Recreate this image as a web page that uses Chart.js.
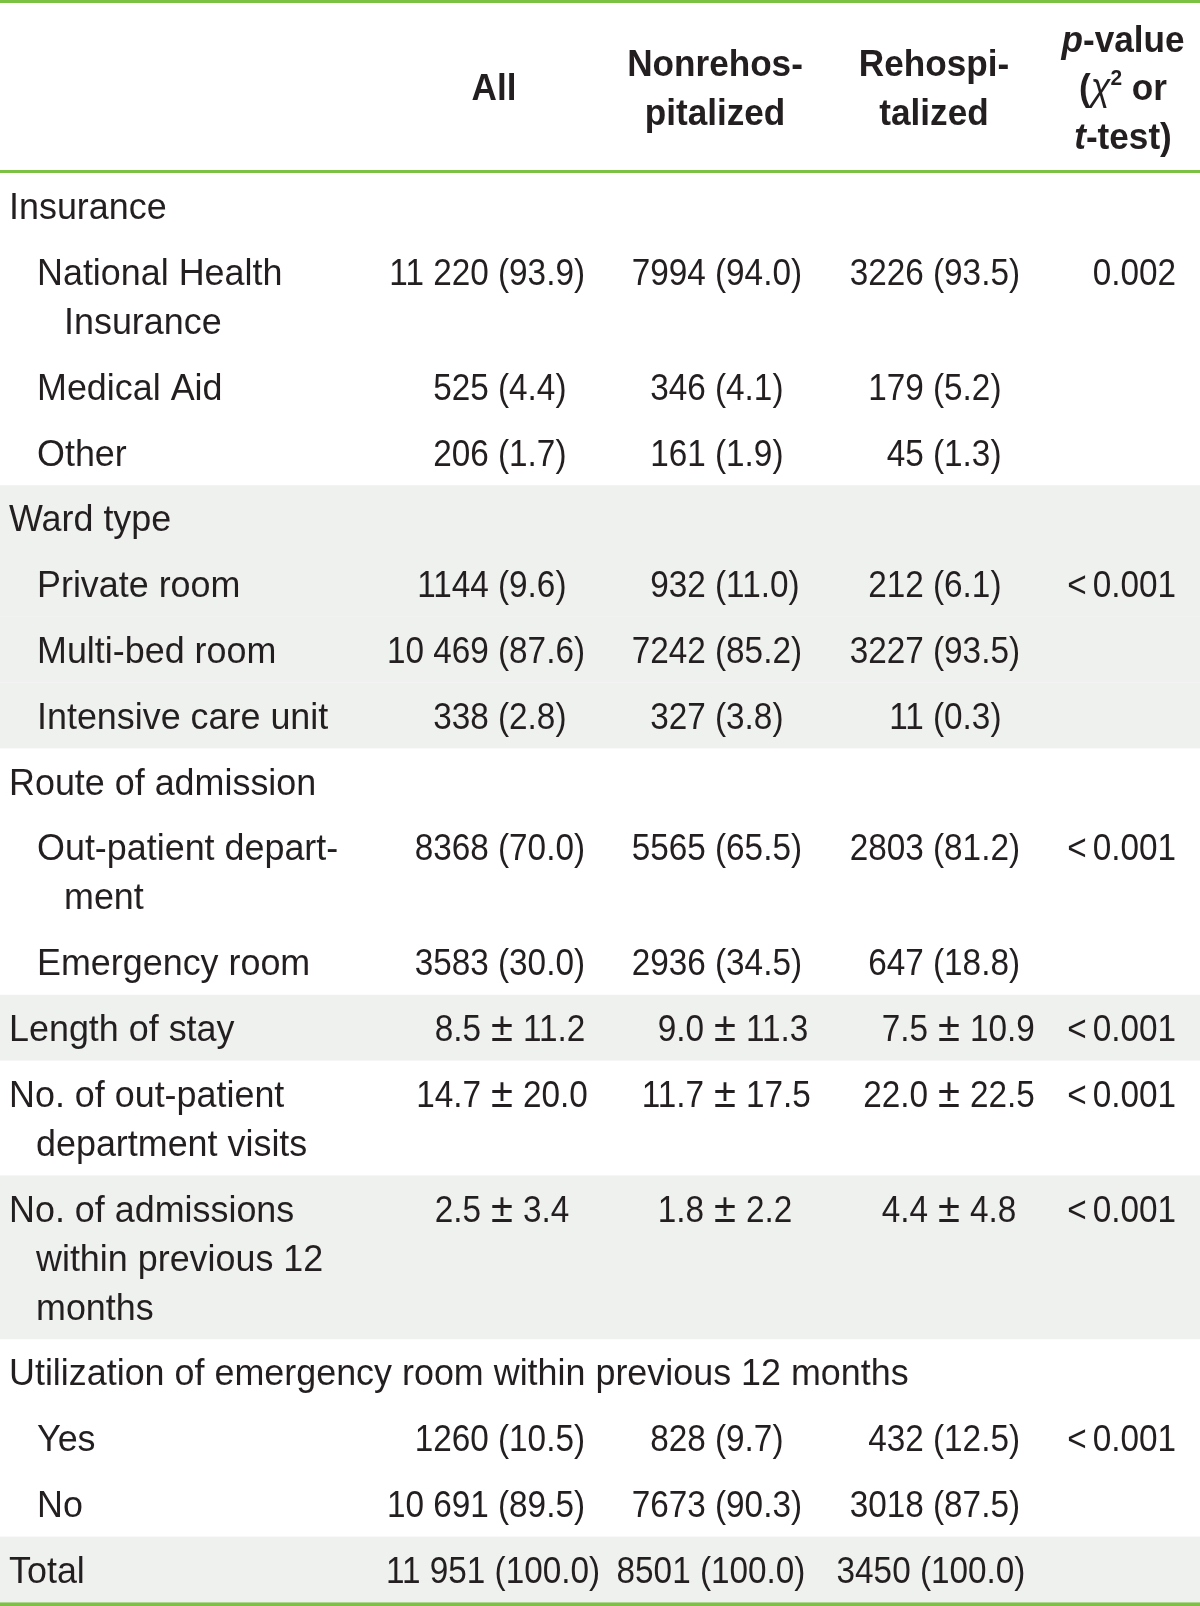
<!DOCTYPE html>
<html>
<head>
<meta charset="utf-8">
<title>Rehospitalization table</title>
<script src="https://cdn.jsdelivr.net/npm/chart.js@4.4.1/dist/chart.umd.min.js"></script>
<style>
  html, body { margin: 0; padding: 0; background: #fff; }
  #wrap { width: 1200px; height: 1606px; }
</style>
</head>
<body>
<div id="wrap"><canvas id="tableChart" width="1200" height="1606"></canvas></div>
<script>
// table content
const columnHeads = [['All'], ['Nonrehos-', 'pitalized'], ['Rehospi-', 'talized'], ['p-value', '(χ2 or', 't-test)']];

const rowLabels = [
    ['Insurance'],
    ['National Health', 'Insurance'],
    ['Medical Aid'],
    ['Other'],
    ['Ward type'],
    ['Private room'],
    ['Multi-bed room'],
    ['Intensive care unit'],
    ['Route of admission'],
    ['Out-patient depart-', 'ment'],
    ['Emergency room'],
    ['Length of stay'],
    ['No. of out-patient', 'department visits'],
    ['No. of admissions', 'within previous 12', 'months'],
    ['Utilization of emergency room within previous 12 months'],
    ['Yes'],
    ['No'],
    ['Total']
];
const rowLevel = [0, 1, 1, 1, 0, 1, 1, 1, 0, 1, 1, 0, 0, 0, 0, 1, 1, 0];
const rowShaded = [0, 0, 0, 0, 1, 1, 1, 1, 0, 0, 0, 1, 0, 1, 0, 0, 0, 1];

const allValues = ['', '11 220 (93.9)', '525 (4.4)', '206 (1.7)', '', '1144 (9.6)', '10 469 (87.6)', '338 (2.8)',
    '', '8368 (70.0)', '3583 (30.0)', '8.5±11.2', '14.7±20.0', '2.5±3.4', '', '1260 (10.5)', '10 691 (89.5)', '11 951 (100.0)'];
const nonrehospValues = ['', '7994 (94.0)', '346 (4.1)', '161 (1.9)', '', '932 (11.0)', '7242 (85.2)', '327 (3.8)',
    '', '5565 (65.5)', '2936 (34.5)', '9.0±11.3', '11.7±17.5', '1.8±2.2', '', '828 (9.7)', '7673 (90.3)', '8501 (100.0)'];
const rehospValues = ['', '3226 (93.5)', '179 (5.2)', '45 (1.3)', '', '212 (6.1)', '3227 (93.5)', '11 (0.3)',
    '', '2803 (81.2)', '647 (18.8)', '7.5±10.9', '22.0±22.5', '4.4±4.8', '', '432 (12.5)', '3018 (87.5)', '3450 (100.0)'];
const pValues = ['', '0.002', '', '', '', '<0.001', '', '', '', '<0.001', '', '<0.001', '<0.001', '<0.001',
    '', '<0.001', '', ''];

// layout
const W = 1200, H = 1606;
const LINE = 49, PAD = 16.8, BODY_TOP = 173, HEAD_MID = 87, HEAD_LINE = 48.5;
const CAP = 13.3;
const headCenters = [494, 715, 934, 1123];
const parenAnchor = [498, 715, 933];
const pmAnchor = [487, 710, 934];
const totalCenters = [493, 711, 931];
const pRight = 1176;
const colors = { rule: '#7cc143', band: '#eff1ef', text: '#231f20' };
const FONT = '"Liberation Sans", Arial, sans-serif';
const LABEL_SX = 0.97, NUM_SX = 0.9, HEAD_SX = 0.95;

// row tops from line counts
const rowTops = [];
let acc = BODY_TOP;
rowLabels.forEach(lines => { rowTops.push(acc); acc += PAD + LINE * lines.length; });
const BODY_BOTTOM = acc;

function drawText(ctx, text, x, y, font, sx, align) {
    ctx.font = font;
    const w = ctx.measureText(text).width * sx;
    let left = x;
    if (align === 'right') left = x - w;
    else if (align === 'center') left = x - w / 2;
    ctx.save();
    ctx.translate(left, y);
    ctx.scale(sx, 1);
    ctx.textAlign = 'left';
    ctx.textBaseline = 'alphabetic';
    ctx.fillText(text, 0, 0);
    ctx.restore();
    return w;
}

function textWidth(ctx, text, font, sx) {
    ctx.font = font;
    return ctx.measureText(text).width * sx;
}

const tablePlugin = {
    id: 'tablePlugin',
    beforeDraw(chart) {
        const ctx = chart.ctx, xs = chart.scales.x, ys = chart.scales.y;
        const x0 = xs.getPixelForValue(0), x1 = xs.getPixelForValue(W);
        ctx.save();
        ctx.fillStyle = '#fff';
        ctx.fillRect(0, 0, W, H);
        // shaded bands
        ctx.fillStyle = colors.band;
        rowLabels.forEach((lines, i) => {
            if (!rowShaded[i]) return;
            const top = ys.getPixelForValue(rowTops[i]);
            const bot = ys.getPixelForValue(rowTops[i] + PAD + LINE * lines.length);
            ctx.fillRect(x0, top, x1 - x0, bot - top);
        });
        // green rules
        ctx.fillStyle = colors.rule;
        ctx.fillRect(x0, ys.getPixelForValue(0), x1 - x0, 3);
        ctx.fillRect(x0, ys.getPixelForValue(BODY_TOP - 3), x1 - x0, 3);
        ctx.fillRect(x0, ys.getPixelForValue(BODY_BOTTOM), x1 - x0, H - BODY_BOTTOM);
        ctx.restore();
    },
    afterDraw(chart) {
        const ctx = chart.ctx, xs = chart.scales.x, ys = chart.scales.y;
        ctx.save();
        ctx.fillStyle = colors.text;
        const bold = 'bold 37px ' + FONT;
        const reg = '37px ' + FONT;
        const pmFont = '40px ' + FONT;

        // header
        columnHeads.forEach((lines, c) => {
            const cx = xs.getPixelForValue(headCenters[c]);
            lines.forEach((line, i) => {
                const y = ys.getPixelForValue(HEAD_MID + (i - (lines.length - 1) / 2) * HEAD_LINE + CAP);
                if (c < 3) {
                    drawText(ctx, line, cx, y, bold, HEAD_SX, 'center');
                    return;
                }
                // p-value column: italic p / t, superscript 2
                let segs;
                if (i === 0) segs = [[line.slice(0, 1), 'italic bold 37px '], [line.slice(1), 'bold 37px ']];
                else if (i === 1) segs = [['(', 'bold 37px '], ['χ', 'italic 38px '], ['2', 'bold 22px ', -15], [' or', 'bold 37px ']];
                else segs = [[line.slice(0, 1), 'italic bold 37px '], [line.slice(1), 'bold 37px ']];
                const total = segs.reduce((s, g) => s + textWidth(ctx, g[0], g[1] + FONT, HEAD_SX), 0);
                let x = cx - total / 2;
                segs.forEach(g => {
                    x += drawText(ctx, g[0], x, y + (g[2] || 0), g[1] + FONT, HEAD_SX, 'left');
                });
            });
        });

        // body labels
        rowLabels.forEach((lines, r) => {
            lines.forEach((line, i) => {
                const indent = 9 + rowLevel[r] * 28 + (i > 0 ? 27 : 0);
                const y = ys.getPixelForValue(rowTops[r] + PAD / 2 + LINE * (i + 0.5) + CAP);
                drawText(ctx, line, xs.getPixelForValue(indent), y, reg, LABEL_SX, 'left');
            });
        });

        // body values
        const valueCols = [allValues, nonrehospValues, rehospValues];
        const pmW = textWidth(ctx, '±', pmFont, 1);
        rowLabels.forEach((lines, r) => {
            const y = ys.getPixelForValue(rowTops[r] + PAD / 2 + LINE * 0.5 + CAP);
            const isTotal = r === rowLabels.length - 1;
            valueCols.forEach((vals, c) => {
                const t = vals[r];
                if (!t) return;
                if (isTotal) {
                    drawText(ctx, t, xs.getPixelForValue(totalCenters[c]), y, reg, NUM_SX, 'center');
                } else if (t.includes('±')) {
                    const [a, b] = t.split('±');
                    const ax = xs.getPixelForValue(pmAnchor[c]);
                    drawText(ctx, a, ax - 6, y, reg, NUM_SX, 'right');
                    drawText(ctx, '±', ax + 4, y, pmFont, 1, 'left');
                    drawText(ctx, b, ax + pmW + 14, y, reg, NUM_SX, 'left');
                } else {
                    const k = t.indexOf('(');
                    const preW = textWidth(ctx, t.slice(0, k), reg, NUM_SX);
                    drawText(ctx, t, xs.getPixelForValue(parenAnchor[c]) - preW, y, reg, NUM_SX, 'left');
                }
            });
            const p = pValues[r];
            if (p) {
                const px = xs.getPixelForValue(pRight);
                if (p[0] === '<') {
                    const w = drawText(ctx, p.slice(1), px, y, reg, NUM_SX, 'right');
                    drawText(ctx, '<', px - w - 6, y, reg, NUM_SX, 'right');
                } else {
                    drawText(ctx, p, px, y, reg, NUM_SX, 'right');
                }
            }
        });
        ctx.restore();
    }
};

const ctx = document.getElementById('tableChart').getContext('2d');
new Chart(ctx, {
    type: 'scatter',
    data: { datasets: [] },
    options: {
        responsive: false,
        animation: false,
        devicePixelRatio: 1,
        layout: { padding: 0 },
        scales: {
            x: { type: 'linear', min: 0, max: W, display: false },
            y: { type: 'linear', min: 0, max: H, reverse: true, display: false }
        },
        plugins: { legend: { display: false }, tooltip: { enabled: false } }
    },
    plugins: [tablePlugin]
});
</script>
</body>
</html>
